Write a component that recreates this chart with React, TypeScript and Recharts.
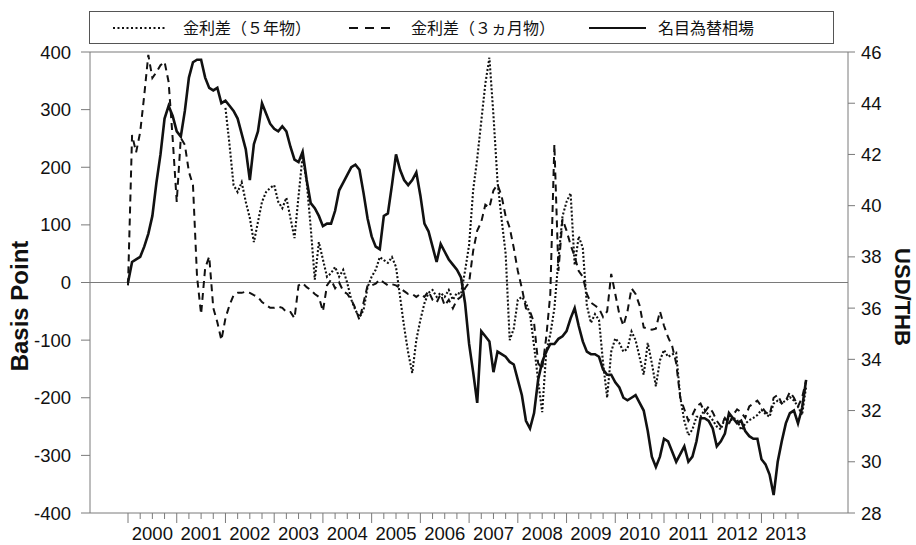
import React from 'react';
import { ComposedChart, Line, XAxis, YAxis, ReferenceLine } from 'recharts';

const START_YEAR = 2000;

// monthly observations from Jan 2000 to Dec 2013
// 金利差（５年物）, basis points; series begins in 2002
const spread5y: (number | null)[] = [
  null, null, null, null, null, null, null, null, null, null, null, null,
  null, null, null, null, null, null, null, null, null, null, null, null,
  303, 239, 169, 157, 174, 140, 112, 70, 105, 140, 157, 164,
  169, 140, 129, 147, 112, 77, 150, 220, 175, 95, 5, 70,
  40, 10, 16, 27, 10, 22, -1, -30, -48, -60, -48, -8,
  10, 22, 44, 39, 34, 44, 27, -25, -77, -122, -157, -100,
  -65, -36, -18, -13, -25, -18, -25, -13, -30, -18, -20, 20,
  65, 160, 215, 280, 345, 390, 290, 175, 110, 50, -100, -80,
  -30, -25, -35, -55, -110, -170, -225, -120, -90, -45, 40, 115,
  140, 155, 30, 80, 60, -40, -70, -55, -65, -140, -200, -120,
  -97, -105, -120, -115, -85, -100, -130, -160, -105, -140, -180, -135,
  -117, -129, -125, -122, -199, -240, -265, -255, -233, -233, -221, -230,
  -239, -250, -255, -235, -244, -235, -238, -256, -245, -239, -235, -230,
  -221, -228, -233, -210, -205, -209, -205, -199, -205, -215, -230, -180,
];

// 金利差（３ヵ月物）, basis points
const spread3m: number[] = [
  -5, 256, 226, 261, 325, 395, 355, 365, 377, 383, 348, 250,
  140, 251, 239, 192, 169, 10, -55, 25, 45, -44, -69, -100,
  -62, -39, -22, -18, -18, -16, -18, -22, -25, -34, -39, -44,
  -44, -42, -44, -51, -51, -62, -5, -1, -8, -13, -20, -25,
  -50, -5, 5, -10, 0, -15, -20, -30, -45, -65, -35, -5,
  -5, -2, 5, 0, -5, -3, -5, -10, -15, -20, -20, -25,
  -20, -25, -15, -30, -35, -20, -40, -30, -45, -30, -25, -10,
  0, 55, 90, 105, 135, 130, 160, 170, 150, 115, 95, 60,
  20, -10, -45, -50, -70, -140, -150, -95, -20, 240, 20, 110,
  90, 65, 45, 20, 10, -20, -35, -40, -45, -60, -50, 15,
  -20, -55, -75, -50, -10, -20, -40, -78, -80, -82, -80, -50,
  -75, -95, -110, -140, -200, -220, -240, -230, -215, -210, -225, -215,
  -225, -240, -250, -235, -245, -230, -220, -225, -235, -215, -210, -205,
  -215, -225, -230, -200, -195, -210, -205, -190, -200, -215, -200, -170,
];

// 名目為替相場, USD/THB
const usdThb: number[] = [
  37.0, 37.8, 37.9, 38.0, 38.4, 38.9, 39.6, 40.9, 42.0, 43.4, 43.9, 43.5,
  42.9, 42.7, 43.7, 45.0, 45.6, 45.7, 45.7, 45.0, 44.6, 44.5, 44.6, 44.0,
  44.1, 43.9, 43.7, 43.4, 42.8, 42.2, 41.0, 42.4, 42.9, 44.0, 43.6, 43.2,
  43.0, 42.9, 43.1, 42.9, 42.3, 41.8, 41.7, 42.1, 41.0, 40.1, 39.9, 39.6,
  39.2, 39.3, 39.3, 39.8, 40.6, 40.9, 41.2, 41.5, 41.6, 41.4, 40.5, 39.5,
  38.8, 38.4, 38.3, 39.6, 39.7, 40.8, 42.0, 41.4, 41.0, 40.8, 41.0, 41.3,
  40.4, 39.3, 39.0, 38.4, 37.8, 38.5, 38.2, 37.9, 37.7, 37.5, 37.2, 36.2,
  34.6, 33.5, 32.3, 35.1, 34.9, 34.7, 33.5, 34.3, 34.2, 34.1, 33.9, 33.8,
  33.2, 32.6, 31.6, 31.3, 31.9, 33.2, 33.9, 34.3, 34.6, 34.6, 34.8, 34.9,
  35.1, 35.6, 36.0, 35.3, 34.7, 34.3, 34.2, 34.2, 34.1, 33.6, 33.4, 33.4,
  33.1, 32.9, 32.5, 32.4, 32.5, 32.6, 32.3, 32.0, 31.2, 30.2, 29.8, 30.2,
  30.9, 30.8, 30.4, 30.0, 30.3, 30.6, 30.0, 30.2, 30.8, 31.7, 31.7, 31.6,
  31.3, 30.6, 30.8, 31.1, 31.9, 31.7, 31.5, 31.6, 31.2, 31.0, 30.9, 30.9,
  30.1, 29.9, 29.5, 28.7, 30.0, 30.8, 31.5, 31.9, 32.0, 31.5, 32.1, 33.2,
];

const years = [2000, 2001, 2002, 2003, 2004, 2005, 2006, 2007, 2008, 2009, 2010, 2011, 2012, 2013];
const bpTicks = [-400, -300, -200, -100, 0, 100, 200, 300, 400];
const fxTicks = [28, 30, 32, 34, 36, 38, 40, 42, 44, 46];

const data = usdThb.map((fx, i) => ({
  t: START_YEAR + i / 12,
  s5: spread5y[i],
  s3: spread3m[i],
  fx,
}));

// quarterly ticks; labels sit on the mid-year tick
const quarterTicks = years.flatMap((y) => [y, y + 0.25, y + 0.5, y + 0.75]);

const AXIS = '#7a7a7a';
const FONT = '"Liberation Sans", Arial, Helvetica, sans-serif';
const JP_FONT = '"Noto Sans CJK JP", "Noto Sans CJK SC", sans-serif';

// eslint-disable-next-line @typescript-eslint/no-explicit-any
const YearTick = (props: any) => {
  const { x, y, payload } = props;
  const v = payload.value as number;
  const frac = v - Math.floor(v);
  const major = frac < 1e-6;
  const mid = Math.abs(frac - 0.5) < 1e-6;
  return (
    <g>
      <line x1={x} x2={x} y1={y} y2={y + (major ? 10 : 6)} stroke={AXIS} strokeWidth={1} />
      {mid && (
        <text x={x} y={y + 27} textAnchor="middle" fill="#111" fontSize={18.5} fontFamily={FONT}>
          {Math.floor(v)}
        </text>
      )}
    </g>
  );
};

const LeftTitle = () => (
  <text x={28} y={306} transform="rotate(-90, 28, 306)" textAnchor="middle"
    fontSize={24} fontWeight="bold" fontFamily={FONT} fill="#111">
    Basis Point
  </text>
);

const RightTitle = () => (
  <text x={895} y={297} transform="rotate(90, 895, 297)" textAnchor="middle"
    fontSize={22} fontWeight="bold" fontFamily={FONT} fill="#111">
    USD/THB
  </text>
);

function LegendBox() {
  const items = [
    { label: '金利差（５年物）', dash: '2 2.5', x1: 23, x2: 77, tx: 93 },
    { label: '金利差（３ヵ月物）', dash: '9 7', x1: 259, x2: 306, tx: 321 },
    { label: '名目為替相場', dash: undefined, x1: 499, x2: 556, tx: 568 },
  ];
  return (
    <div style={{
      position: 'absolute', left: 89, top: 11, width: 745, height: 33,
      border: '1px solid #555', boxSizing: 'border-box', background: '#fff',
    }}>
      <svg width={745} height={31} style={{ position: 'absolute', left: 0, top: 0 }}>
        {items.map((it) => (
          <line key={it.label} x1={it.x1} x2={it.x2} y1={16} y2={16}
            stroke="#111" strokeWidth={1.8} strokeDasharray={it.dash} />
        ))}
      </svg>
      {items.map((it) => (
        <span key={it.label} style={{
          position: 'absolute', left: it.tx, top: 4, fontSize: 16, lineHeight: '22px',
          fontFamily: JP_FONT, color: '#111', whiteSpace: 'nowrap',
        }}>
          {it.label}
        </span>
      ))}
    </div>
  );
}

export default function App() {
  return (
    <div style={{ position: 'absolute', left: 0, top: 0, width: 916, height: 545, background: '#fff' }}>
      <ComposedChart width={916} height={545} data={data}
        margin={{ top: 52, right: 8, bottom: 0, left: 30 }}>
        <XAxis dataKey="t" type="number" domain={[1999.22, 2014.776]} allowDataOverflow
          ticks={quarterTicks} interval={0} tickSize={0} tickMargin={0} height={32}
          axisLine={{ stroke: AXIS }} tickLine={false} tick={<YearTick />} />
        <YAxis yAxisId="bp" orientation="left" width={60} domain={[-400, 400]} ticks={bpTicks}
          interval={0} allowDataOverflow tickSize={9} tickMargin={10}
          axisLine={{ stroke: AXIS }} tickLine={{ stroke: AXIS }}
          tick={{ fill: '#111', fontSize: 18.5, fontFamily: FONT }}
          label={{ content: () => <LeftTitle /> }} />
        <YAxis yAxisId="fx" orientation="right" width={60} domain={[28, 46]} ticks={fxTicks}
          interval={0} allowDataOverflow tickSize={7} tickMargin={6}
          axisLine={{ stroke: AXIS }} tickLine={{ stroke: AXIS }}
          tick={{ fill: '#111', fontSize: 18.5, fontFamily: FONT }}
          label={{ content: () => <RightTitle /> }} />
        <ReferenceLine yAxisId="bp" y={0} stroke={AXIS} strokeWidth={1.2} />
        <ReferenceLine yAxisId="bp" y={400} stroke={AXIS} strokeWidth={1.2} />
        <Line yAxisId="bp" dataKey="s5" type="linear" stroke="#111" strokeWidth={2.1}
          strokeDasharray="2 2" dot={false} connectNulls={false} isAnimationActive={false} />
        <Line yAxisId="bp" dataKey="s3" type="linear" stroke="#111" strokeWidth={2}
          strokeDasharray="7 5" dot={false} isAnimationActive={false} />
        <Line yAxisId="fx" dataKey="fx" type="linear" stroke="#111" strokeWidth={2.6}
          dot={false} isAnimationActive={false} />
      </ComposedChart>
      <LegendBox />
    </div>
  );
}
